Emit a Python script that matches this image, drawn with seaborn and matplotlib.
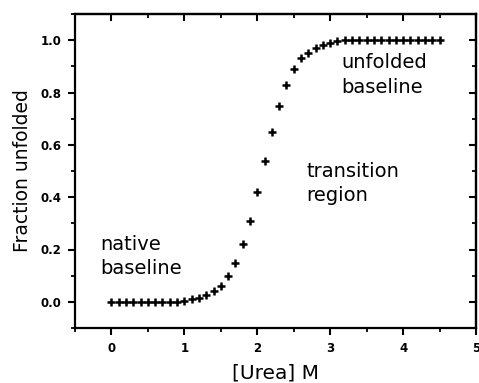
import matplotlib
matplotlib.use("Agg")
import matplotlib.pyplot as plt
from matplotlib.ticker import MultipleLocator
import numpy as np
import pandas as pd
import seaborn as sns

# Urea denaturation curve: fraction of protein unfolded vs. denaturant concentration
urea_molar = [0.0, 0.1, 0.2, 0.3, 0.4, 0.5, 0.6, 0.7, 0.8, 0.9,
              1.0, 1.1, 1.2, 1.3, 1.4, 1.5, 1.6, 1.7, 1.8, 1.9,
              2.0, 2.1, 2.2, 2.3, 2.4, 2.5, 2.6, 2.7, 2.8, 2.9,
              3.0, 3.1, 3.2, 3.3, 3.4, 3.5, 3.6, 3.7, 3.8, 3.9,
              4.0, 4.1, 4.2, 4.3, 4.4, 4.5]
fraction_unfolded = [0.0, 0.0, 0.0, 0.0, 0.0, 0.0, 0.0, 0.0, 0.0, 0.0,
                     0.005, 0.01, 0.015, 0.025, 0.04, 0.06, 0.10, 0.15, 0.22, 0.31,
                     0.42, 0.54, 0.65, 0.75, 0.83, 0.89, 0.93, 0.95, 0.97, 0.98,
                     0.99, 0.995, 1.0, 1.0, 1.0, 1.0, 1.0, 1.0, 1.0, 1.0,
                     1.0, 1.0, 1.0, 1.0, 1.0, 1.0]

x_ticks = [0, 1, 2, 3, 4, 5]
y_ticks = [0.0, 0.2, 0.4, 0.6, 0.8, 1.0]
y_tick_labels = ["0.0", "0.2", "0.4", "0.6", "0.8", "1.0"]

region_labels = ["unfolded\nbaseline", "transition\nregion", "native\nbaseline"]

sns.set_theme(style="ticks")
plt.rcParams["font.family"] = ["DejaVu Sans"]
plt.rcParams["text.color"] = "black"
plt.rcParams["axes.labelcolor"] = "black"

df = pd.DataFrame({"urea": urea_molar, "fraction": fraction_unfolded})

fig = plt.figure(figsize=(4.79, 3.83), dpi=100)
ax = fig.add_axes([75 / 479, 55 / 383, 401 / 479, 314 / 383])

sns.scatterplot(data=df, x="urea", y="fraction", marker="+", s=28,
                color="black", linewidth=1.8, ax=ax, legend=False)

ax.set_xlim(-0.5, 5.0)
ax.set_ylim(-0.1, 1.1)
ax.set_xticks(x_ticks)
ax.set_yticks(y_ticks)
ax.set_yticklabels(y_tick_labels)
ax.xaxis.set_minor_locator(MultipleLocator(0.5))
ax.yaxis.set_minor_locator(MultipleLocator(0.1))

for side in ["left", "right", "top", "bottom"]:
    ax.spines[side].set_visible(True)
    ax.spines[side].set_linewidth(1.6)
    ax.spines[side].set_color("black")

ax.tick_params(axis="both", which="major", direction="out", length=5, width=1.5,
               labelsize=8.5, colors="black", pad=5)
ax.tick_params(axis="both", which="minor", direction="out", length=3, width=1.3,
               colors="black")
ax.tick_params(top=False, right=False, which="both")
for lbl in ax.get_xticklabels() + ax.get_yticklabels():
    lbl.set_fontweight("bold")

# inward ticks on the top and right edges
ax2 = ax.secondary_xaxis("top")
ax2.set_xticks(x_ticks)
ax2.set_xticklabels([])
ax2.xaxis.set_minor_locator(MultipleLocator(0.5))
ax2.tick_params(which="major", direction="in", length=5, width=1.5, colors="black")
ax2.tick_params(which="minor", direction="in", length=3, width=1.3, colors="black")
ax2.spines["top"].set_linewidth(1.6)
ax3 = ax.secondary_yaxis("right")
ax3.set_yticks(y_ticks)
ax3.set_yticklabels([])
ax3.yaxis.set_minor_locator(MultipleLocator(0.1))
ax3.tick_params(which="major", direction="in", length=5, width=1.5, colors="black")
ax3.tick_params(which="minor", direction="in", length=3, width=1.3, colors="black")
ax3.spines["right"].set_linewidth(1.6)

ax.set_xlabel("[Urea] M", fontsize=14.5, labelpad=6)
ax.set_ylabel("Fraction unfolded", fontsize=13.5, labelpad=6)

ax.text(3.15, 0.95, region_labels[0], fontsize=14, va="top", ha="left", linespacing=1.35)
ax.text(2.67, 0.535, region_labels[1], fontsize=14, va="top", ha="left", linespacing=1.35)
ax.text(-0.15, 0.255, region_labels[2], fontsize=14, va="top", ha="left", linespacing=1.35)

fig.savefig("out.png", dpi=100)
